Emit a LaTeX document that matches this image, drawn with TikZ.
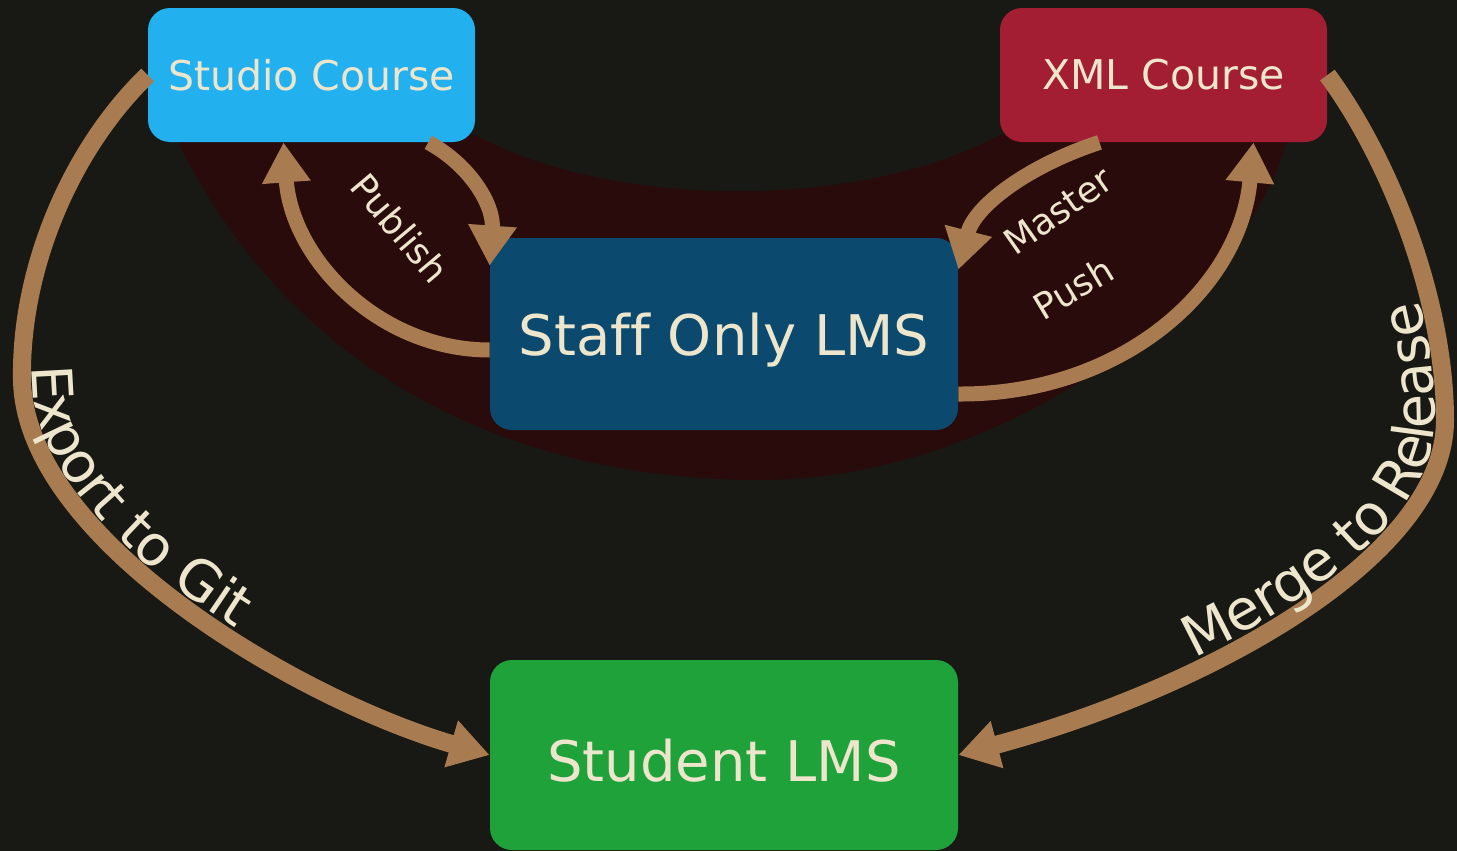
\documentclass[tikz,border=0pt]{standalone}
\usepackage{fontspec}
\setmainfont[Ligatures=NoCommon]{DejaVu Sans}
\usepackage{xcolor}
\usetikzlibrary{arrows.meta,decorations.text}
\definecolor{bgc}{HTML}{181914}
\definecolor{blobc}{HTML}{290B0C}
\definecolor{studioc}{HTML}{22B0EF}
\definecolor{xmlc}{HTML}{A31E33}
\definecolor{staffc}{HTML}{0B4A6E}
\definecolor{studentc}{HTML}{20A23A}
\definecolor{arrowc}{HTML}{A87C50}
\definecolor{ink}{HTML}{EDE6CC}

\begin{document}
\begin{tikzpicture}[x=0.5pt,y=0.5pt,>={Triangle[length=20pt,width=23pt]},
		box/.style={rectangle,rounded corners=11pt,text=ink,inner sep=0pt},
		topbox/.style={box,minimum width=163.5pt,minimum height=67pt,font=\fontsize{20.5}{24}\selectfont},
		lmsbox/.style={box,minimum width=234pt,minimum height=96pt,text depth=0pt,font=\fontsize{28}{32}\selectfont},
		flow/.style={draw=arrowc,line width=7.5pt},
		wide/.style={draw=arrowc,line width=9pt},
		lbl/.style={text=ink,inner sep=0pt,font=\fontsize{18}{20}\selectfont}]
	\useasboundingbox[fill=bgc] (0,0) rectangle (1457,-851);
	\fill[blobc] (172,-130) .. controls (290,-380) and (520,-480) .. (760,-480) .. controls (1000,-480) and (1250,-300) .. (1290,-130) -- (1000,-135) .. controls (860,-210) and (615,-210) .. (475,-135) -- cycle;
	\node[topbox,fill=studioc] (SC) at (311.5,-75) {Studio Course};
	\node[topbox,fill=xmlc] (XC) at (1163.5,-75) {XML Course};
	\node[lmsbox,fill=staffc] (SL) at (724,-334) {Staff Only LMS};
	\node[lmsbox,fill=studentc,minimum height=95pt,text height=26pt] (ST) at (724,-755) {Student LMS};
	\draw[flow,->] (SC.-30) .. controls (470,-165) and (494,-205) .. ([yshift=-14pt]SL.north west);
	\draw[flow,->] ([yshift=-8pt]SL.west) .. controls (380,-350) and (292,-260) .. ([xshift=-14pt]SC.south);
	\draw[flow,->] ([xshift=-32pt]XC.south) .. controls (1030,-165) and (975,-205) .. ([yshift=-16pt]SL.north east);
	\draw[flow,->] ([yshift=-30pt]SL.east) .. controls (1120,-395) and (1240,-290) .. ([xshift=45pt]XC.south);
	\draw[wide,->,postaction={decorate,decoration={text along path,text color=ink,raise=5pt,
		text={|\fontsize{28}{28}\selectfont|Export to Git},text align={left indent=163pt}}}]
		(SC.west) .. controls (70,-150) and (20,-270) .. (22,-380) .. controls (25,-540) and (300,-700) .. (ST.west);
	\draw[wide,<-,postaction={decorate,decoration={text along path,text color=ink,raise=5pt,
		text={|\fontsize{28}{28}\selectfont|Merge to Release},text align={left indent=128pt}}}]
		(ST.east) .. controls (1200,-690) and (1445,-560) .. (1445,-420) .. controls (1445,-300) and (1390,-160) .. (XC.east);
	\node[lbl,rotate=-50] (PB) at (400,-228) {Publish};
	\node[lbl,rotate=35] (MS) at (1058,-211) {Master};
	\node[lbl,rotate=31] (PS) at (1073,-288) {Push};
\end{tikzpicture}
\end{document}
